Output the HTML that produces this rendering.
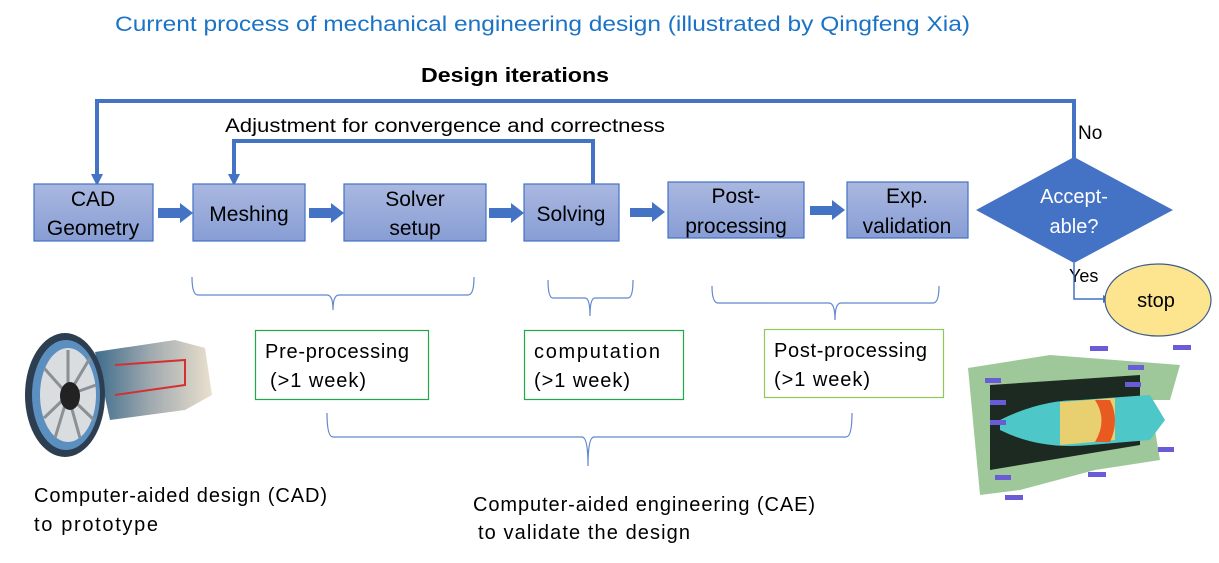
<!DOCTYPE html>
<html><head><meta charset="utf-8"><style>
html,body{margin:0;padding:0;background:#fff;}
svg{display:block;font-family:"Liberation Sans",sans-serif;}
</style></head><body>
<svg width="1219" height="563" viewBox="0 0 1219 563" xmlns="http://www.w3.org/2000/svg">
<defs>
<linearGradient id="bx" x1="0" y1="0" x2="0" y2="1"><stop offset="0" stop-color="#aab8e0"/><stop offset="1" stop-color="#879dd4"/></linearGradient>
<linearGradient id="eg" x1="0" y1="0" x2="1" y2="0"><stop offset="0" stop-color="#2a5d80"/><stop offset=".5" stop-color="#9aa3a8"/><stop offset="1" stop-color="#e8dcc8"/></linearGradient>
</defs>
<text x="115" y="31" font-size="21" fill="#1a73c6" textLength="855" lengthAdjust="spacingAndGlyphs">Current process of mechanical engineering design (illustrated by Qingfeng Xia)</text>
<text x="421" y="82" font-size="20" font-weight="bold" fill="#000" textLength="188" lengthAdjust="spacingAndGlyphs">Design iterations</text>
<text x="225" y="132" font-size="19" fill="#000" textLength="440" lengthAdjust="spacingAndGlyphs">Adjustment for convergence and correctness</text>

<g stroke="#4472c4" stroke-width="4" fill="none">
<polyline points="97,176 97,101 1074,101 1074,158"/>
<polyline points="234,176 234,141 593,141 593,184"/>
</g>
<polygon points="91,174 103,174 97,186" fill="#4472c4"/>
<polygon points="228,174 240,174 234,186" fill="#4472c4"/>

<g fill="url(#bx)" stroke="#4472c4" stroke-width="1.2">
<rect x="34" y="184" width="119" height="57"/>
<rect x="193" y="184" width="112" height="57"/>
<rect x="344" y="184" width="142" height="57"/>
<rect x="524" y="184" width="95" height="57"/>
<rect x="668" y="182" width="136" height="56"/>
<rect x="847" y="182" width="121" height="56"/>
</g>
<g font-size="21" fill="#000" text-anchor="middle">
<text x="93" y="206">CAD</text><text x="93" y="235">Geometry</text>
<text x="249" y="221">Meshing</text>
<text x="415" y="206">Solver</text><text x="415" y="235">setup</text>
<text x="571" y="221">Solving</text>
<text x="736" y="203">Post-</text><text x="736" y="233">processing</text>
<text x="907" y="203">Exp.</text><text x="907" y="233">validation</text>
</g>
<g fill="#4472c4">
<polygon points="158,208 180,208 180,203 193,213 180,223 180,218 158,218"/>
<polygon points="309,208 331,208 331,203 344,213 331,223 331,218 309,218"/>
<polygon points="489,208 511,208 511,203 524,213 511,223 511,218 489,218"/>
<polygon points="630,208 652,208 652,202 665,212 652,222 652,217 630,217"/>
<polygon points="810,206 832,206 832,200 845,210 832,220 832,215 810,215"/>
</g>
<polygon points="1074,157 1173,210 1074,263 976,210" fill="#4472c4"/>
<text x="1074" y="203" font-size="20" fill="#fff" text-anchor="middle">Accept-</text>
<text x="1074" y="233" font-size="20" fill="#fff" text-anchor="middle">able?</text>
<text x="1078" y="139" font-size="19" fill="#000">No</text>
<text x="1069" y="282" font-size="18" fill="#000">Yes</text>
<polyline points="1074,263 1074,299 1104,299" stroke="#4472c4" stroke-width="1.5" fill="none"/>
<polygon points="1103,295 1111,299 1103,303" fill="#4472c4"/>
<ellipse cx="1158" cy="300" rx="53" ry="36" fill="#fde58f" stroke="#3b5d8c" stroke-width="1.2"/>
<text x="1156" y="307" font-size="20" fill="#000" text-anchor="middle">stop</text>

<g stroke="#4472c4" stroke-width="1.2" fill="none" opacity=".85">
<path d="M192,277 Q192,295 198,295 L327,295 Q333,295 333,310 Q333,295 339,295 L468,295 Q474,295 474,277"/>
<path d="M548,280 Q548,298 553,298 L585,298 Q590,298 590,316 Q590,298 595,298 L628,298 Q633,298 633,280"/>
<path d="M712,286 Q712,303 718,303 L829,303 Q835,303 835,320 Q835,303 841,303 L933,303 Q939,303 939,286"/>
<path d="M327,413 Q327,437 333,437 L582,437 Q588,437 588,466 Q588,437 594,437 L846,437 Q852,437 852,413"/>
</g>

<rect x="255.5" y="330.5" width="173" height="69" fill="none" stroke="#1faa48" stroke-width="1.2"/>
<rect x="524.5" y="330.5" width="159" height="69" fill="none" stroke="#1faa48" stroke-width="1.2"/>
<rect x="764.5" y="329.5" width="179" height="68" fill="none" stroke="#8ec85a" stroke-width="1.2"/>
<g font-size="20" fill="#000" lengthAdjust="spacingAndGlyphs">
<text x="265" y="358" textLength="144">Pre-processing</text><text x="270" y="387" textLength="96">(&gt;1 week)</text>
<text x="534" y="358" textLength="126">computation</text><text x="534" y="387" textLength="96">(&gt;1 week)</text>
<text x="774" y="357" textLength="153">Post-processing</text><text x="774" y="386" textLength="96">(&gt;1 week)</text>
<text x="34" y="502" textLength="293">Computer-aided design (CAD)</text><text x="34" y="531" textLength="124">to prototype</text>
<text x="473" y="511" textLength="342">Computer-aided engineering (CAE)</text><text x="478" y="539" textLength="212">to validate the design</text>
</g>

<g>
<path d="M95,352 L175,340 L205,348 L212,395 L185,410 L110,420 Z" fill="url(#eg)" opacity=".9"/>
<ellipse cx="65" cy="395" rx="40" ry="62" fill="#2c3e50"/>
<ellipse cx="66" cy="395" rx="34" ry="55" fill="#5b8fbf"/>
<ellipse cx="68" cy="395" rx="28" ry="47" fill="#d9dde0"/>
<g stroke="#8a9096" stroke-width="3">
<line x1="68" y1="395" x2="68" y2="350"/><line x1="68" y1="395" x2="90" y2="358"/><line x1="68" y1="395" x2="96" y2="385"/>
<line x1="68" y1="395" x2="94" y2="420"/><line x1="68" y1="395" x2="80" y2="438"/><line x1="68" y1="395" x2="55" y2="438"/>
<line x1="68" y1="395" x2="44" y2="418"/><line x1="68" y1="395" x2="44" y2="368"/>
</g>
<ellipse cx="70" cy="396" rx="10" ry="14" fill="#222"/>
<path d="M115,365 L185,360 L185,385 L115,395" fill="none" stroke="#d43030" stroke-width="2"/>
</g>

<g>
<path d="M968,368 L1050,355 L1180,365 L1170,400 L1150,400 L1160,460 L1095,470 L1020,490 L980,495 Z" fill="#9fc89a"/>
<path d="M990,385 L1140,375 L1140,445 L990,470 Z" fill="#1d2a22"/>
<path d="M1000,420 Q1040,400 1080,400 L1150,395 L1165,420 L1150,440 L1090,445 Q1040,450 1000,430 Z" fill="#4ec7c9"/>
<path d="M1060,402 L1115,398 L1115,440 L1060,445 Z" fill="#e8d070"/>
<path d="M1095,400 Q1108,420 1095,442 L1110,442 Q1120,420 1110,400 Z" fill="#e85a20"/>
<g fill="#6a5bd6">
<rect x="985" y="378" width="16" height="5"/><rect x="990" y="400" width="16" height="5"/><rect x="990" y="420" width="16" height="5"/>
<rect x="1090" y="346" width="18" height="5"/><rect x="1128" y="365" width="16" height="5"/><rect x="1125" y="382" width="16" height="5"/>
<rect x="1173" y="345" width="18" height="5"/><rect x="1158" y="447" width="16" height="5"/><rect x="1088" y="472" width="18" height="5"/>
<rect x="1005" y="495" width="18" height="5"/><rect x="995" y="475" width="16" height="5"/>
</g>
</g>
</svg>
</body></html>
